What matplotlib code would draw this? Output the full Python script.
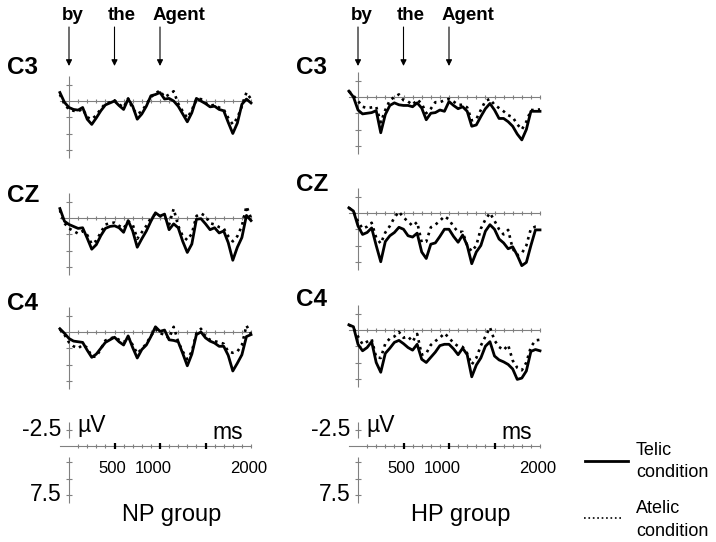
import numpy as np
import matplotlib
matplotlib.use('Agg')
import matplotlib.pyplot as plt
from matplotlib.lines import Line2D

plt.rcParams['font.family'] = ['Liberation Sans', 'DejaVu Sans']

# sample times (ms) shared by every waveform
TIME_MS = np.arange(-100, 2001, 50)

# amplitudes in microvolts, negative plotted up
NP_C3_TELIC = [-1.3, 0.2, 1.0, 1.3, 1.4, 1.0, 2.8, 3.6, 2.6, 1.5, 0.6,
               0.3, 0.0, 0.7, 1.3, -0.3, 0.8, 2.8, 2.0, 0.8, -0.8,
               -1.0, -1.3, -0.3, -0.4, 0.0, 0.8, 2.0, 3.2, 1.8, -0.4, 0.0,
               0.4, 0.9, 0.8, 1.3, 1.5, 3.3, 5.0, 3.4, 0.5, -0.3, 0.3]
NP_C3_ATELIC = [-1.0, 0.5, 1.3, 1.5, 1.6, 1.2, 2.5, 2.8, 2.2, 1.2, 0.4,
                0.2, -0.1, 0.5, 1.0, -0.4, 1.2, 2.0, 1.6, 0.5, -0.6,
                -1.2, -1.6, -0.6, -1.0, -1.5, 0.4, 1.6, 2.6, 1.4, -0.3, -0.3,
                0.3, 0.7, 0.6, 1.0, 1.3, 2.6, 3.6, 2.6, 0.8, -1.3, -0.3]
NP_CZ_TELIC = [-1.45, 0.5, 1.0, 1.3, 1.6, 1.5, 3.1, 4.8, 4.1, 2.7, 1.6,
               1.3, 1.2, 1.5, 2.2, 0.4, 2.0, 4.5, 3.2, 2.0, 0.5,
               -0.8, -0.3, -0.6, 1.8, 0.9, 1.5, 3.6, 5.3, 4.0, 0.2, 0.1,
               0.9, 1.8, 1.5, 2.3, 2.0, 3.8, 6.5, 4.5, 3.0, -0.4, 0.4]
NP_CZ_ATELIC = [-1.2, 0.8, 1.6, 2.0, 2.4, 2.0, 2.6, 4.0, 3.5, 2.2, 1.0,
                0.8, 0.7, 1.2, 1.6, 0.5, 1.0, 3.2, 2.2, 1.2, 0.0,
                -0.6, -0.3, -0.2, 1.0, -1.4, 1.2, 2.8, 3.4, 2.4, -0.3, -0.7,
                -0.3, 0.8, 1.0, 1.4, 1.6, 2.8, 3.6, 2.8, 1.2, -1.8, 0.0]
NP_C4_TELIC = [-0.5, 0.2, 1.0, 1.4, 1.5, 1.6, 2.8, 3.9, 3.4, 2.5, 1.6,
               1.2, 0.8, 1.5, 2.0, 0.6, 2.4, 4.0, 2.7, 2.0, 0.7,
               -0.8, -0.1, -0.3, 1.2, 1.3, 1.5, 3.3, 5.2, 3.4, 0.4, 0.0,
               0.9, 1.4, 1.7, 2.2, 2.2, 3.6, 6.0, 4.8, 3.5, 0.7, 0.4]
NP_C4_ATELIC = [-0.4, 0.4, 1.6, 2.2, 2.5, 2.0, 2.4, 3.8, 3.8, 2.6, 1.3,
                1.0, 0.8, 1.2, 1.6, 0.8, 2.0, 3.3, 2.6, 1.8, 0.6,
                -0.4, 0.2, 0.4, 1.0, -0.8, 1.5, 3.0, 4.2, 3.0, 0.2, -0.5,
                0.7, 1.2, 1.4, 1.6, 1.8, 3.0, 3.2, 3.0, 2.0, -1.0, 0.3]

HP_C3_TELIC = [-0.9, 0.0, 2.0, 2.6, 2.5, 2.4, 2.1, 5.5, 2.7, 1.3, 0.9,
               1.2, 1.3, 1.3, 1.5, 0.9, 1.7, 3.5, 2.5, 2.4, 2.0,
               2.2, 0.7, 1.3, 1.8, 1.5, 2.2, 4.5, 4.3, 3.0, 1.8, 1.0,
               2.0, 3.3, 3.3, 3.8, 4.5, 5.7, 6.6, 5.0, 2.2, 2.2, 2.2]
HP_C3_ATELIC = [-0.9, -0.2, 0.6, 1.5, 1.7, 1.6, 1.5, 3.9, 2.0, 0.5, 0.0,
                -0.4, 0.5, 0.7, 1.2, 0.4, 1.0, 2.5, 1.8, 0.8, 0.8,
                0.5, 0.3, 0.7, 1.2, 1.2, 1.6, 3.6, 3.4, 2.0, 0.6, 0.3,
                1.2, 1.7, 2.2, 2.8, 3.1, 4.2, 5.0, 3.8, 2.0, 2.0, 1.9]
HP_CZ_TELIC = [-0.8, -0.3, 2.0, 3.3, 3.0, 2.3, 5.0, 7.5, 4.4, 3.5, 3.0,
               2.2, 2.5, 3.5, 3.7, 3.1, 6.0, 7.0, 4.8, 4.6, 3.6,
               2.5, 2.5, 3.6, 4.5, 3.4, 5.0, 7.8, 6.0, 5.0, 2.8, 1.8,
               2.5, 4.0, 4.6, 5.5, 5.2, 6.5, 8.1, 7.6, 5.0, 2.6, 2.6]
HP_CZ_ATELIC = [-0.8, -0.2, 1.3, 2.4, 2.1, 1.5, 3.8, 4.7, 3.0, 2.0, 0.7,
                -0.2, 0.7, 1.3, 2.0, 1.4, 4.5, 4.4, 2.2, 1.8, 1.2,
                0.5, 1.0, 2.1, 2.9, 2.9, 5.0, 5.9, 5.0, 2.4, 1.0, 0.0,
                1.2, 2.5, 3.3, 2.6, 5.5, 6.5, 6.2, 5.0, 2.4, 2.1, 2.1]
HP_C4_TELIC = [-0.8, -0.5, 2.2, 3.2, 2.7, 1.8, 5.0, 6.5, 3.6, 2.8, 1.9,
               1.6, 2.1, 2.7, 3.1, 2.2, 4.5, 5.0, 4.2, 3.4, 2.4,
               2.2, 2.2, 2.9, 3.8, 2.8, 3.8, 7.2, 5.4, 4.3, 2.5, 1.8,
               4.0, 4.6, 4.9, 5.3, 6.0, 7.6, 7.4, 6.3, 3.3, 3.0, 3.2]
HP_C4_ATELIC = [-0.8, -0.3, 1.0, 2.2, 1.8, 1.4, 4.2, 4.3, 2.1, 1.3, 1.0,
                0.3, 1.2, 1.0, 1.8, 0.6, 3.8, 3.6, 2.3, 1.7, 1.2,
                0.5, 1.2, 2.0, 2.5, 2.6, 3.6, 5.3, 4.3, 2.4, 1.0, -0.4,
                1.6, 2.6, 3.1, 2.3, 4.7, 5.8, 6.2, 5.0, 2.6, 1.6, 1.5]

CHANNELS = ['C3', 'CZ', 'C4']
WORDS = ['by', 'the', 'Agent']
WORD_ONSETS = [0, 500, 1000]
SCALE_LABELS = ['500', '1000', '2000']
GROUPS = ['NP group', 'HP group']

# ---- layout (pixels) ----
W, H = 716, 542
PX_PER_MS = 0.091
PX_PER_UV = 6.5
XMIN, XMAX = -100, 2000
YMIN, YMAX = -4.0, 9.5
AXIS_GREY = '#808080'

fig = plt.figure(figsize=(W / 100, H / 100), dpi=100)


def px_text(x, y, s, **kw):
    fig.text(x / W, 1 - y / H, s, **kw)


def add_panel(x0, zero_px):
    left = x0 + XMIN * PX_PER_MS
    width = (XMAX - XMIN) * PX_PER_MS
    top = zero_px + YMIN * PX_PER_UV
    height = (YMAX - YMIN) * PX_PER_UV
    ax = fig.add_axes([left / W, 1 - (top + height) / H, width / W, height / H])
    ax.set_xlim(XMIN, XMAX)
    ax.set_ylim(YMAX, YMIN)
    ax.axis('off')
    return ax


def draw_frame(ax, scale=False):
    ax.plot([XMIN, XMAX], [0, 0], color=AXIS_GREY, lw=0.8, clip_on=False)
    ticks = np.arange(100, 2001, 100)
    ax.vlines(ticks, -0.35, 0.35, color=AXIS_GREY, lw=0.8, clip_on=False)
    if scale:
        ax.vlines([500, 1000, 1500], -0.45, 0.45, color='black', lw=1.6)
        ax.vlines(0, YMIN + 0.3, -1.2, color=AXIS_GREY, lw=0.8, clip_on=False)
        ax.vlines(0, 1.7, 8.8, color=AXIS_GREY, lw=0.8, clip_on=False)
    else:
        ax.vlines(0, -3.8, 8.8, color=AXIS_GREY, lw=0.8, clip_on=False)
    ax.hlines([-2.5, 2.5, 5.0, 7.5], -28, 28, color=AXIS_GREY, lw=0.8, clip_on=False)


groups = [
    (69, [101, 218, 332], [(NP_C3_TELIC, NP_C3_ATELIC), (NP_CZ_TELIC, NP_CZ_ATELIC),
                           (NP_C4_TELIC, NP_C4_ATELIC)], [67, 195, 304]),
    (358, [97, 213, 330], [(HP_C3_TELIC, HP_C3_ATELIC), (HP_CZ_TELIC, HP_CZ_ATELIC),
                           (HP_C4_TELIC, HP_C4_ATELIC)], [67, 184, 300]),
]

for gi, (x0, zeros, series, label_y) in enumerate(groups):
    for row, (zero_px, (telic, atelic)) in enumerate(zip(zeros, series)):
        ax = add_panel(x0, zero_px)
        draw_frame(ax)
        ax.plot(TIME_MS, atelic, color='black', lw=1.9, linestyle=':', clip_on=False)
        ax.plot(TIME_MS, telic, color='black', lw=2.0, clip_on=False)
        px_text(x0 - 62, label_y[row], CHANNELS[row], fontsize=17.5,
                fontweight='bold', ha='left', va='center')

        if row == 0:
            for word, onset in zip(WORDS, WORD_ONSETS):
                ax.annotate('', xy=(onset, 1 - 66 / H), xycoords=('data', 'figure fraction'),
                            xytext=(onset, 1 - 27 / H), textcoords=('data', 'figure fraction'),
                            arrowprops=dict(arrowstyle='-|>', color='black', lw=0.8,
                                            mutation_scale=9, shrinkA=0, shrinkB=0))
                ax.annotate(word, xy=(onset, 1 - 15 / H), xycoords=('data', 'figure fraction'),
                            xytext=(-7, 0), textcoords='offset pixels',
                            ha='left', va='center', fontsize=13.5, fontweight='bold')

    # calibration axis
    sax = add_panel(x0, 446)
    draw_frame(sax, scale=True)
    sax.text(-80, -2.5, '-2.5', fontsize=16.5, ha='right', va='center')
    sax.text(-80, 7.5, '7.5', fontsize=16.5, ha='right', va='center')
    sax.text(90, -3.2, 'µV', fontsize=16.5, ha='left', va='center')
    sax.text(1580, -2.1, 'ms', fontsize=16.5, ha='left', va='center')
    for lab, xpos in zip(SCALE_LABELS, [470, 930, 1980]):
        sax.text(xpos, 3.5, lab, fontsize=12, ha='center', va='center')
    sax.text(1130, 11.6, GROUPS[gi], fontsize=17, ha='center', va='baseline')

# legend
fig.add_artist(Line2D([585 / W, 628 / W], [1 - 461 / H, 1 - 461 / H], color='black', lw=2.0))
fig.add_artist(Line2D([584 / W, 623 / W], [1 - 518 / H, 1 - 518 / H], color='black',
                      lw=1.2, linestyle=':'))
px_text(636, 455, 'Telic', fontsize=13, ha='left', va='baseline')
px_text(636, 477, 'condition', fontsize=13, ha='left', va='baseline')
px_text(636, 513, 'Atelic', fontsize=13, ha='left', va='baseline')
px_text(636, 536, 'condition', fontsize=13, ha='left', va='baseline')

fig.savefig('out.png', dpi=100)
